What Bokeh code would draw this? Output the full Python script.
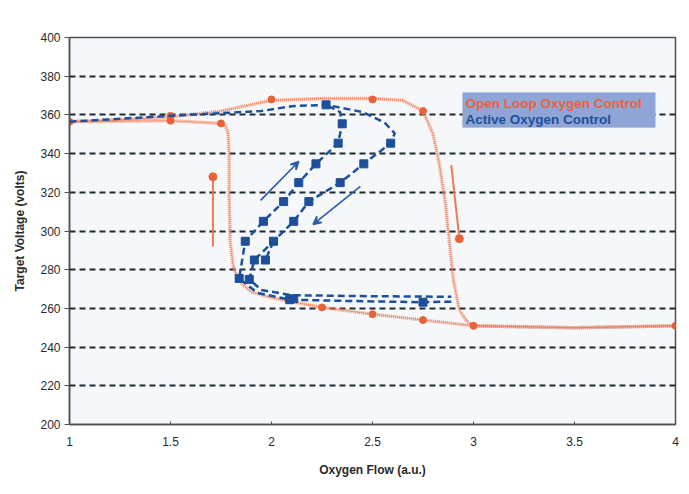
from bokeh.plotting import figure
from bokeh.models import Arrow, VeeHead, Label, BoxAnnotation, FixedTicker
from bokeh.embed import file_html
from bokeh.resources import INLINE

# ---- data ----
x_ticks = [1, 1.5, 2, 2.5, 3, 3.5, 4]
x_tick_labels = ["1", "1.5", "2", "2.5", "3", "3.5", "4"]
y_ticks = [200, 220, 240, 260, 280, 300, 320, 340, 360, 380, 400]

# Open loop: increasing flow branch
ol_up_x = [1.0, 1.25, 1.5, 1.75, 2.0, 2.25, 2.5, 2.65, 2.75, 2.80, 2.83, 2.86, 2.88, 2.90, 2.93, 2.97, 3.0, 3.5, 4.0]
ol_up_y = [356.5, 357.5, 359.0, 362.0, 367.5, 368.5, 368.5, 367.5, 362.0, 350.0, 335.0, 315.0, 295.0, 275.0, 259.0, 253.0, 251.0, 250.0, 251.0]
# Open loop: decreasing flow branch
ol_dn_x = [4.0, 3.5, 3.0, 2.75, 2.5, 2.25, 2.0, 1.9, 1.84, 1.81, 1.795, 1.79, 1.79, 1.785, 1.77, 1.75, 1.5, 1.0]
ol_dn_y = [251.0, 250.0, 251.0, 254.0, 257.0, 260.5, 265.5, 268.5, 274.0, 282.0, 295.0, 320.0, 340.0, 351.0, 354.5, 355.6, 357.0, 356.5]
# Open loop markers
ol_mx = [1.0, 1.5, 1.5, 1.75, 2.0, 2.5, 2.75, 2.25, 2.5, 2.75, 3.0, 4.0]
ol_my = [356.5, 357.0, 359.5, 355.6, 368.0, 368.0, 362.0, 260.5, 257.0, 254.0, 251.0, 251.0]

# Active control: right (descending) branch
ac_a_x = [1.0, 1.5, 1.95, 2.1, 2.27, 2.45, 2.56, 2.61, 2.59, 2.457, 2.34, 2.185, 2.11, 2.01, 1.915, 1.89, 1.95, 2.10, 2.50, 2.89]
ac_a_y = [356.5, 359.5, 362.0, 364.5, 365.2, 361.5, 356.0, 350.5, 345.4, 334.7, 325.0, 315.2, 305.0, 294.7, 285.0, 275.0, 269.5, 266.8, 266.3, 266.0]
# Active control: left (ascending) branch
ac_b_x = [2.89, 2.75, 2.40, 2.09, 1.93, 1.84, 1.87, 1.96, 2.06, 2.135, 2.22, 2.33, 2.35, 2.34, 2.27]
ac_b_y = [263.5, 263.2, 263.8, 264.5, 268.0, 275.5, 294.7, 305.0, 315.2, 325.0, 334.7, 345.4, 355.4, 361.4, 365.2]
ac_c_x = [2.01, 1.97]
ac_c_y = [294.7, 285.0]
# Active control markers
ac_mx = [2.27, 2.35, 2.33, 2.59, 2.22, 2.457, 2.135, 2.34, 2.06, 2.185, 1.96, 2.11, 1.87, 2.01, 1.915, 1.97, 1.84, 1.89, 2.09, 2.11, 2.75]
ac_my = [365.2, 355.4, 345.4, 345.4, 334.7, 334.7, 325.0, 325.0, 315.2, 315.2, 305.0, 305.0, 294.7, 294.7, 285.0, 285.0, 275.5, 275.0, 264.5, 265.0, 263.2]

# Direction arrows (start x, start y, end x, end y)
ol_arrow_x0 = [1.71, 2.89]
ol_arrow_y0 = [292.0, 334.0]
ol_arrow_x1 = [1.71, 2.93]
ol_arrow_y1 = [328.0, 296.0]
ac_arrows = [(1.946, 315.8, 2.135, 335.9), (2.44, 323.0, 2.206, 303.4)]

series_names = ["Open Loop Oxygen Control", "Active Oxygen Control"]

ORANGE = "#ef7a55"
ORANGE_D = "#e8623a"
BLUE = "#1d4f9b"
FONT = "Liberation Sans"

p = figure(width=689, height=494, x_range=(1, 4), y_range=(200, 400),
           output_backend="svg", toolbar_location=None,
           min_border_left=69, min_border_right=14, min_border_top=37, min_border_bottom=70)
p.background_fill_color = "#f6f7f9"
p.border_fill_color = "#ffffff"
p.outline_line_color = "#4a5258"
p.outline_line_width = 1.5

p.xgrid.visible = False
p.ygrid.ticker = FixedTicker(ticks=y_ticks)
p.ygrid.grid_line_color = "#1c2a32"
p.ygrid.grid_line_dash = "6 4"
p.ygrid.grid_line_width = 2

p.xaxis.ticker = FixedTicker(ticks=x_ticks)
p.xaxis.major_label_overrides = {t: l for t, l in zip(x_ticks, x_tick_labels)}
p.yaxis.ticker = FixedTicker(ticks=y_ticks)
p.xaxis.minor_tick_line_color = None
p.yaxis.minor_tick_line_color = None
for ax in (p.xaxis, p.yaxis):
    ax.axis_line_color = "#4a5258"
    ax.axis_line_width = 1.5
    ax.major_tick_line_color = "#4a5258"
    ax.major_label_text_font = FONT
    ax.major_label_text_font_size = "12px"
    ax.major_label_text_color = "#2a2a2a"
    ax.axis_label_text_font = FONT
    ax.axis_label_text_font_size = "12px"
    ax.axis_label_text_font_style = "bold"
    ax.axis_label_text_color = "#2a2a2a"
p.xaxis.major_tick_in = 3
p.xaxis.major_tick_out = 0
p.xaxis.major_label_standoff = 12
p.yaxis.major_tick_in = 0
p.yaxis.major_tick_out = 5
p.yaxis.major_label_standoff = 4
p.xaxis.axis_label = "Oxygen Flow (a.u.)"
p.yaxis.axis_label = "Target Voltage (volts)"
p.xaxis.axis_label_standoff = 14
p.yaxis.axis_label_standoff = 10

# open loop curve
for xs, ys in ((ol_up_x, ol_up_y), (ol_dn_x, ol_dn_y)):
    p.line(xs, ys, line_color=ORANGE, line_width=1, line_alpha=0.6)
    p.line(xs, ys, line_color=ORANGE, line_width=3.5, line_dash="1 1", line_alpha=0.75)
p.scatter(ol_mx, ol_my, marker="circle", size=7, fill_color=ORANGE_D, line_color=ORANGE_D)

# open loop direction arrows (line with round head)
p.segment(ol_arrow_x0, ol_arrow_y0, ol_arrow_x1, ol_arrow_y1, line_color=ORANGE, line_width=2)
p.scatter(ol_arrow_x1, ol_arrow_y1, marker="circle", size=8, fill_color=ORANGE_D, line_color=ORANGE_D)

# active control curve
for xs, ys in ((ac_a_x, ac_a_y), (ac_b_x, ac_b_y), (ac_c_x, ac_c_y)):
    p.line(xs, ys, line_color=BLUE, line_width=2.5, line_dash="7 4")
p.scatter(ac_mx, ac_my, marker="square", size=8, fill_color=BLUE, line_color=BLUE)

for (x0, y0, x1, y1) in ac_arrows:
    p.add_layout(Arrow(x_start=x0, y_start=y0, x_end=x1, y_end=y1,
                       line_color="#2a5aa8", line_width=1.6,
                       end=VeeHead(size=8, line_color="#2a5aa8", line_width=1.6,
                                   fill_color="#2a5aa8")))

# legend box
p.add_layout(BoxAnnotation(left=2.946, right=3.90, bottom=353.5, top=371.6,
                           fill_color="#8fa5d6", fill_alpha=1.0, line_color="#8fa5d6"))
for name, yy, col in zip(series_names, [365.8, 357.6], [ORANGE_D, BLUE]):
    p.add_layout(Label(x=2.96, y=yy, text=name, text_color=col, text_font=FONT,
                       text_font_size="13.5px", text_font_style="bold",
                       text_baseline="middle"))

open("out.html", "w").write(file_html(p, INLINE))
